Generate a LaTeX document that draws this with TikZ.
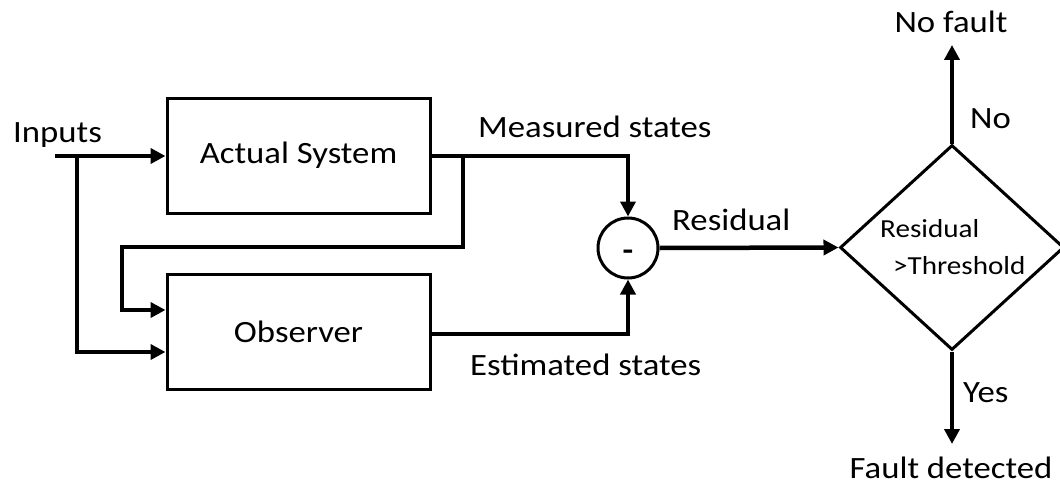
\documentclass[tikz,border=0pt]{standalone}
\usepackage{fontspec}
\setmainfont{Carlito}[FakeStretch=1.12]
\usetikzlibrary{arrows.meta,shapes.geometric}
\begin{document}
\begin{tikzpicture}[x=1pt,y=-1pt,
  bigtext/.style={font=\fontsize{31}{34}\selectfont},
  blockbox/.style={draw,line width=3pt,minimum width=263pt,minimum height=115pt,inner sep=0pt,bigtext},
  sumnode/.style={draw,circle,line width=3pt,minimum size=60pt,inner sep=0pt},
  decide/.style={draw,diamond,line width=3pt,minimum width=224pt,minimum height=205pt,inner sep=0pt},
  lbl/.style={bigtext,inner sep=0pt},
  dlbl/.style={font=\fontsize{26}{29}\selectfont,inner sep=0pt,anchor=base west},
  flow/.style={line width=4.5pt,-{Triangle[length=15pt,width=15pt]}},
  wire/.style={line width=4.5pt}
]
\useasboundingbox (0,0) rectangle (1060,487);

% blocks
\node[blockbox] (sys) at (298.5,155.5) {Actual System};
\node[blockbox] (obs) at (298.5,332) {Observer};
\node[sumnode] (sum) at (628,248) {};
\node[font=\fontsize{31}{34}\selectfont\bfseries,inner sep=0pt,anchor=base] (minus) at (628,260) {-};
\node[decide] (dec) at (952,247.5) {};
\node[dlbl] (r1) at (880,237) {Residual};
\node[dlbl] (r2) at (893,274) {>Threshold};

% inputs
\node[lbl,anchor=base west] (inp) at (13,142) {Inputs};
\coordinate (in0) at (55,156);
\coordinate (br) at (77,156);
\draw[flow] (in0) -- (sys.west |- in0);
\draw[flow] (br) -- (77,352) -- (obs.west |- 0,352);

% measured states and feedback to the observer
\coordinate (fb) at (463,156);
\draw[wire] (sys.east |- fb) -- (628,156);
\draw[flow] (628,154) -- (sum.north);
\draw[flow] (fb) -- (463,247) -- (122,247) -- (122,310) -- (obs.west |- 0,310);
\node[lbl,anchor=base west] (meas) at (478,137) {Measured states};

% estimated states
\draw[flow] (obs.east |- 0,334) -- (628,334) -- (sum.south);
\node[lbl,anchor=base west] (est) at (470,375) {Estimated states};

% residual
\draw[flow] (sum.east) -- (dec.west);
\node[lbl,anchor=base west] (res) at (672,230) {Residual};

% decision outputs
\coordinate (nf) at (952,45);
\coordinate (fd) at (952,444);
\draw[flow] (dec.north) -- (nf);
\draw[flow] (dec.south) -- (fd);
\node[lbl,anchor=base] (nofault) at (951,33) {No fault};
\node[lbl,anchor=base west] (no) at (970,128) {No};
\node[lbl,anchor=base west] (yes) at (963,402) {Yes};
\node[lbl,anchor=base] (fault) at (951,478) {Fault detected};
\end{tikzpicture}
\end{document}
